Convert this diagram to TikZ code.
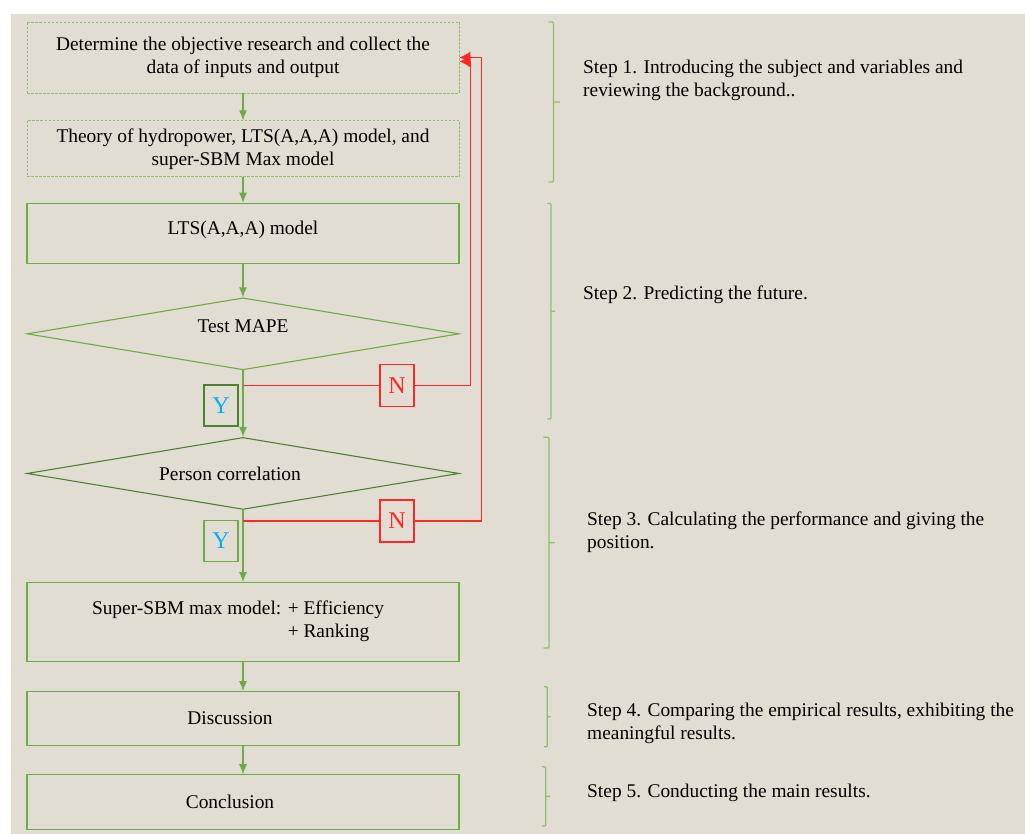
\documentclass[tikz,border=0pt]{standalone}
\usepackage{fontspec}
\setmainfont{Liberation Serif}
\usepackage{xcolor}
\usetikzlibrary{arrows.meta, positioning, calc, shapes}

\definecolor{paper}{HTML}{E2DDD2}
\definecolor{boxgreen}{HTML}{6FAA48}
\definecolor{dashgreen}{HTML}{8CC06A}
\definecolor{darkgreen}{HTML}{4F8034}
\definecolor{loopred}{HTML}{FF2626}
\definecolor{yescyan}{HTML}{00AEEF}

\begin{document}
\begin{tikzpicture}[
    x=1pt, y=1pt,
    font=\fontsize{19.4}{23}\selectfont,
    prep/.style={rectangle, draw=dashgreen, dash pattern=on 2.5pt off 1.5pt, line width=0.8pt, minimum width=432pt, minimum height=71pt, align=center},
    task/.style={rectangle, draw=boxgreen, line width=1.1pt, minimum width=432pt, minimum height=60pt, align=center},
    test/.style={diamond, draw=boxgreen, line width=1.1pt, aspect=6, inner sep=0pt, minimum width=432pt, minimum height=72pt},
    ybox/.style={rectangle, draw=darkgreen, line width=1.1pt, minimum width=34pt, minimum height=41pt, inner sep=0pt, text=yescyan, font=\fontsize{24}{26}\selectfont},
    nbox/.style={rectangle, draw=loopred, line width=1.1pt, minimum width=34pt, minimum height=42pt, inner sep=0pt, text=loopred, font=\fontsize{24}{26}\selectfont},
    arrow/.style={-{Latex[length=10pt, width=8pt]}, boxgreen, line width=1.1pt},
    nline/.style={loopred, line width=1.4pt},
    loop/.style={-{Latex[length=11pt, width=12pt]}, loopred, line width=1.4pt},
    brk/.style={dashgreen, line width=1.3pt, rounded corners=1pt},
    stepnote/.style={anchor=west, align=left, inner sep=0pt}
]

% paper
\fill[white] (0,0) rectangle (1025,-834);
\fill[paper] (11,-14) rectangle (1025,-834);
\useasboundingbox (0,0) rectangle (1025,-834);

% main column
\node[prep] (goal) at (243,-57.5) {Determine the objective research and collect the\\data of inputs and output};
\node[prep, below=27pt of goal, minimum height=56pt] (theory) {Theory of hydropower, LTS(A,A,A) model, and\\super-SBM Max model};
\node[task, below=25.5pt of theory] (lts) {\raisebox{3pt}[\height][\depth]{LTS(A,A,A) model}};
\node[test, below=33.5pt of lts] (mape) {\raisebox{8pt}[\height][\depth]{Test MAPE}};
\node[test, below=66.5pt of mape, draw=darkgreen] (pearson) {Person correlation\hspace*{26pt}};
\node[task, below=72pt of pearson, minimum height=79pt] (sbm) {\raisebox{1pt}[\height][\depth]{\begin{tabular}{@{}l@{ }l@{}}Super-SBM max model: & + Efficiency\\ & + Ranking\end{tabular}}\hspace*{10pt}};
\node[task, below=29pt of sbm, minimum height=54pt] (disc) {Discussion\hspace*{26pt}};
\node[task, below=28pt of disc, minimum height=55pt] (concl) {Conclusion\hspace*{26pt}};

% yes / no marks
\node[ybox] (yes1) at (221,-405.5) {Y};
\node[nbox] (no1) at (397,-385.5) {N};
\node[ybox, draw=boxgreen] (yes2) at (221,-541) {Y};
\node[nbox] (no2) at (397,-521) {N};

\draw[arrow] (goal) -- (theory);
\draw[arrow] (theory) -- (lts);
\draw[arrow] (lts) -- (mape);
\draw[arrow] (mape) -- (pearson);
\draw[arrow] (pearson) -- (sbm);
\draw[arrow] (sbm) -- (disc);
\draw[arrow] (disc) -- (concl);

% back to the start
\draw[nline] (no1.west -| mape.south) -- (no1.west);
\draw[loop] (no1.east) -| ([xshift=11pt, yshift=-4pt]goal.east) -- ([yshift=-4pt]goal.east);
\draw[nline] (no2.west -| pearson.south) -- (no2.west);
\draw[loop] (no2.east) -| ([xshift=22pt]goal.east) -- (goal.east);

% steps
\foreach \xa/\xb/\ya/\yb/\tip in {548.7/553.5/-22/-182/560, 547.3/551/-203.5/-419/555, 543.3/549/-437.3/-648/554.7, 544/547.3/-686.7/-746.7/550.7, 542/545.7/-766.7/-826/550}
  \draw[brk] (\xa,\ya) -- (\xb,\ya) -- (\xb,\yb) -- (\xa,\yb) (\xb,{(\ya+\yb)/2}) -- (\tip,{(\ya+\yb)/2});

\node[stepnote] (step1) at (583,-80) {Step 1. Introducing the subject and variables and\\reviewing the background..};
\node[stepnote] (step2) at (583,-295) {Step 2. Predicting the future.};
\node[stepnote] (step3) at (587,-532) {Step 3. Calculating the performance and giving the\\position.};
\node[stepnote] (step4) at (587,-723) {Step 4. Comparing the empirical results, exhibiting the\\meaningful results.};
\node[stepnote] (step5) at (587,-793) {Step 5. Conducting the main results.};

\end{tikzpicture}
\end{document}
